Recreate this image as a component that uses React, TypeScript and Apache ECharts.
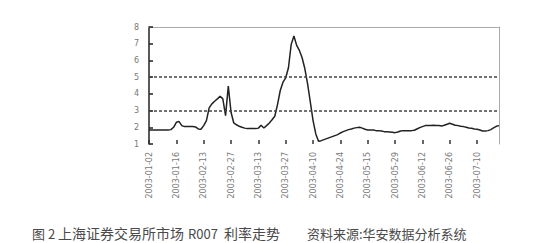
import React, { useEffect, useRef } from "react";
import * as echarts from "echarts";

// R007 rate values (one per trading day)
const rateValues: number[] = [
  1.84, 1.84, 1.84, 1.84, 1.84, 1.84, 1.84, 1.84, 1.86, 2.0,
  2.3, 2.34, 2.1, 2.04, 2.04, 2.04, 2.04, 2.02, 1.9, 1.88,
  2.1, 2.4, 3.16, 3.4, 3.56, 3.7, 3.86, 3.7, 2.7, 4.46,
  2.9, 2.26, 2.15, 2.06, 2.0, 1.95, 1.92, 1.92, 1.92, 1.92,
  1.95, 2.12, 1.96, 2.1, 2.26, 2.45, 2.66, 3.36, 4.2, 4.7,
  4.96, 5.56, 6.96, 7.46, 6.9, 6.6, 6.16, 5.5, 4.6, 3.5,
  2.4, 1.6, 1.16, 1.2, 1.26, 1.32, 1.38, 1.44, 1.5, 1.56,
  1.66, 1.74, 1.8, 1.86, 1.9, 1.95, 1.98, 2.0, 1.95, 1.88,
  1.84, 1.84, 1.84, 1.8, 1.8, 1.78, 1.74, 1.74, 1.72, 1.7,
  1.68, 1.72, 1.78, 1.8, 1.8, 1.8, 1.8, 1.82, 1.9, 1.98,
  2.04, 2.1, 2.1, 2.1, 2.12, 2.1, 2.1, 2.08, 2.12, 2.18,
  2.24, 2.18, 2.12, 2.1, 2.06, 2.04, 2.0, 1.96, 1.94, 1.9,
  1.88, 1.84, 1.78, 1.78, 1.8, 1.86, 1.96, 2.06, 2.1,
];

// date labels shown every 10 trading days
const xTickLabels: string[] = [
  "2003-01-02", "2003-01-16", "2003-02-13", "2003-02-27", "2003-03-13",
  "2003-03-27", "2003-04-10", "2003-04-24", "2003-05-15", "2003-05-29",
  "2003-06-12", "2003-06-26", "2003-07-10",
];
const labelStep = 10;

// y axis settings values
const yMin = 1;
const yMax = 8;
const yStep = 1;
const dashedLevels: number[] = [3, 5];

const captionFigure = "图 2";
const captionTitleA = "上海证券交易所市场";
const captionTitleB = "R007";
const captionTitleC = "利率走势";
const captionSource = "资料来源:华安数据分析系统";

export default function App() {
  const ref = useRef<HTMLDivElement>(null);
  useEffect(() => {
    if (!ref.current) return;
    const chart = echarts.init(ref.current, undefined, { renderer: "svg" });
    const categories = rateValues.map((_, i) => String(i));
    const cap = (text: string, x: number, size: number) => ({
      type: "text",
      x,
      y: 233,
      style: {
        text,
        fontSize: size,
        fill: "#4a4a4a",
        fontFamily: "Noto Sans CJK SC",
        verticalAlign: "middle",
      },
    });
    chart.setOption({
      animation: false,
      backgroundColor: "#ffffff",
      grid: { left: 149, right: 61, top: 27, bottom: 99 },
      xAxis: [
        {
          type: "category",
          data: categories,
          boundaryGap: false,
          axisLine: { show: false },
          axisTick: {
            show: true,
            inside: true,
            length: 4,
            interval: labelStep - 1,
            lineStyle: { color: "#333", width: 1.5 },
          },
          axisLabel: {
            interval: labelStep - 1,
            rotate: 90,
            fontSize: 8,
            color: "#777",
            margin: 8,
            fontFamily: "DejaVu Sans",
            formatter: (v: string) => {
              const i = Number(v);
              return i % labelStep === 0 ? xTickLabels[i / labelStep] ?? "" : "";
            },
          },
          splitLine: { show: false },
        },
        {
          type: "category",
          position: "top",
          data: categories,
          boundaryGap: false,
          axisLine: { show: true, lineStyle: { color: "#aaa", width: 1 } },
          axisTick: { show: false },
          axisLabel: { show: false },
        },
      ],
      yAxis: [
        {
          type: "value",
          min: yMin,
          max: yMax,
          interval: yStep,
          axisLine: { show: true, lineStyle: { color: "#222", width: 1.5 } },
          axisTick: { show: true, inside: true, length: 4, lineStyle: { color: "#222", width: 1.5 } },
          axisLabel: { fontSize: 8, color: "#777", margin: 10, fontFamily: "DejaVu Sans" },
          splitLine: { show: false },
        },
        {
          type: "value",
          position: "right",
          min: yMin,
          max: yMax,
          interval: yStep,
          axisLine: { show: true, lineStyle: { color: "#aaa", width: 1 } },
          axisTick: { show: false },
          axisLabel: { show: false },
          splitLine: { show: false },
        },
      ],
      series: [
        {
          type: "line",
          data: rateValues,
          symbol: "none",
          lineStyle: { color: "#222", width: 1.5 },
          markLine: {
            silent: true,
            symbol: "none",
            label: { show: false },
            lineStyle: { color: "#444", type: [3, 2], width: 1.5 },
            data: dashedLevels.map((v) => ({ yAxis: v })),
          },
        },
      ],
      graphic: [
        cap(captionFigure, 32, 13),
        cap(captionTitleA, 58, 14),
        cap(captionTitleB, 188, 13),
        cap(captionTitleC, 224, 14),
        cap(captionSource, 307, 13),
      ],
    });
    return () => chart.dispose();
  }, []);
  return (
    <div
      ref={ref}
      style={{ position: "absolute", left: 0, top: 0, width: 560, height: 243 }}
    />
  );
}
